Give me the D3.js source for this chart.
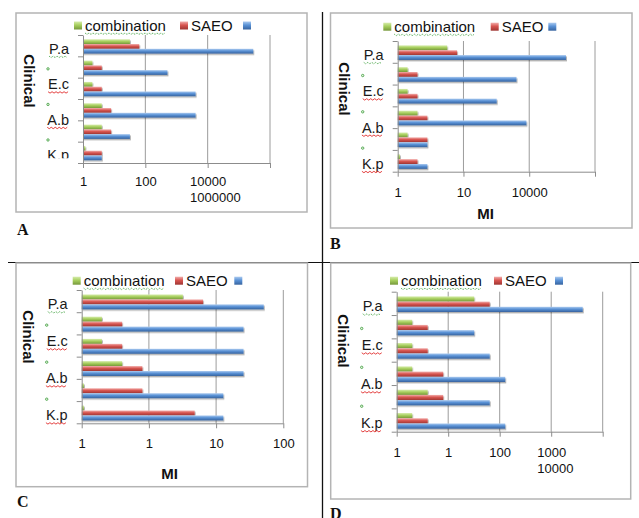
<!DOCTYPE html>
<html>
<head>
<meta charset="utf-8">
<script src="https://cdn.jsdelivr.net/npm/d3@7"></script>
<style>
body { margin: 0; background: #fff; }
svg { display: block; }
</style>
</head>
<body>
<div class="mainCont"></div>
<script>
// rows of bars (6 per chart), series and axis labels
var rows = ["r1", "r2", "r3", "r4", "r5", "r6"];
var seriesNames = ["combination", "SAEO", ""];
var rowLabels = ["P.a", "E.c", "A.b", "K.p"];

// chart A
var combA = [32, 2, 2, 4, 4, 1.19];
var saeoA = [64, 4, 4, 8, 8, 4];
var thirdA = [290000, 512, 4096, 4096, 32, 4];
var ticksA = [1, 100, 10000, 1000000];
var tickLabelsA = ["1", "100", "10000", "1000000"];

// chart B
var combB = [32, 2, 2, 4, 2, 1.17];
var saeoB = [64, 4, 4, 8, 8, 4];
var thirdB = [131072, 4096, 1024, 8192, 8, 8];
var ticksB = [1, 100, 10000, 1000000];
var tickLabelsB = ["1", "10", "10000", ""];

// chart C
var combC = [32, 2, 2, 4, 1.08, 1.08];
var saeoC = [64, 4, 4, 8, 8, 48];
var thirdC = [512, 256, 256, 256, 128, 128];
var ticksC = [1, 10, 100, 1000];
var tickLabelsC = ["1", "1", "10", "100"];

// chart D
var combD = [32, 2, 2, 2, 4, 2];
var saeoD = [64, 4, 4, 8, 8, 4];
var thirdD = [4096, 32, 64, 128, 64, 128];
var ticksD = [1, 10, 100, 1000, 10000];
var tickLabelsD = ["1", "1", "100", "1000", "10000"];

var panels = [
    { letter: "A", series: [combA, saeoA, thirdA], ticks: ticksA, tickLabels: tickLabelsA, wrapLast: true, title: null,
      box: [16, 13, 307, 212], plot: [83, 35, 270, 163], tickPad: 9, legendY: 25.5, legendX: [74, 180, 243],
      clinical: [29.5, 81], letterPos: [17, 235], clipY: 158.3 },
    { letter: "B", series: [combB, saeoB, thirdB], ticks: ticksB, tickLabels: tickLabelsB, wrapLast: false, title: [485.7, 218.7],
      box: [330.5, 13, 632, 228], plot: [397.7, 41, 595, 171.7], tickPad: 11, legendY: 26.7, legendX: [383.3, 490.7, 548.3],
      clinical: [344.5, 89], letterPos: [330, 249], clipY: null },
    { letter: "C", series: [combC, saeoC, thirdC], ticks: ticksC, tickLabels: tickLabelsC, wrapLast: false, title: [169.7, 478.7],
      box: [16, 263, 307.5, 486.7], plot: [81.7, 290, 283.3, 423.3], tickPad: 10, legendY: 280.7, legendX: [72.7, 175, 234.3],
      clinical: [28, 337], letterPos: [17, 506.7], clipY: null },
    { letter: "D", series: [combD, saeoD, thirdD], ticks: ticksD, tickLabels: tickLabelsD, wrapLast: true, title: null,
      box: [330.7, 263, 630.7, 499], plot: [396.7, 291.7, 602.7, 431.7], tickPad: 11, legendY: 280.7, legendX: [390, 494, 555],
      clinical: [343, 341], letterPos: [330, 519], clipY: null }
];

var barColors = [
    ["#d6ecab", "#a7cf5e", "#76983a"],
    ["#f2aeac", "#d85550", "#9e3532"],
    ["#abcaef", "#5a92d6", "#36639f"]
];

var svg = d3.select(".mainCont").append("svg")
    .attr("width", 639)
    .attr("height", 518)
    .style("font-family", "'Liberation Sans', Arial, sans-serif");

var defs = svg.append("defs");
barColors.forEach(function(c, i) {
    var grad = defs.append("linearGradient")
        .attr("id", "grad" + i)
        .attr("x1", 0).attr("y1", 0).attr("x2", 0).attr("y2", 1);
    grad.append("stop").attr("offset", "0%").attr("stop-color", c[0]);
    grad.append("stop").attr("offset", "45%").attr("stop-color", c[1]);
    grad.append("stop").attr("offset", "100%").attr("stop-color", c[2]);
});
var shadow = defs.append("filter")
    .attr("id", "shadow")
    .attr("x", "-5%").attr("y", "-60%")
    .attr("width", "115%").attr("height", "260%");
shadow.append("feDropShadow")
    .attr("dx", 1).attr("dy", 1.4)
    .attr("stdDeviation", 0.7)
    .attr("flood-color", "#000")
    .attr("flood-opacity", 0.3);

// page table lines
svg.append("line")
    .attr("x1", 8).attr("x2", 639).attr("y1", 262.5).attr("y2", 262.5)
    .attr("stroke", "#111").attr("stroke-width", 1);
svg.append("line")
    .attr("x1", 322.5).attr("x2", 322.5).attr("y1", 12).attr("y2", 518)
    .attr("stroke", "#111").attr("stroke-width", 1.3);

// spell-check style squiggle under a word
function squiggle(g, x0, x1, yb, color, dotted) {
    var pts = [];
    for (var xx = x0, k = 0; xx <= x1; xx += 2, k++) {
        pts.push([xx, yb + (k % 2 ? 1.4 : 0)]);
    }
    g.append("path")
        .attr("d", d3.line()(pts))
        .attr("fill", "none")
        .attr("stroke", color)
        .attr("stroke-width", 0.9)
        .attr("stroke-dasharray", dotted ? "1,1" : null);
}

function drawPanel(p, idx) {
    var g = svg.append("g").attr("class", "panel");

    g.append("rect")
        .attr("x", p.box[0]).attr("y", p.box[1])
        .attr("width", p.box[2] - p.box[0])
        .attr("height", p.box[3] - p.box[1])
        .attr("fill", "#fff")
        .attr("stroke", "#b4b4b4")
        .attr("stroke-width", 1.5);

    var x = d3.scaleLog()
        .domain([p.ticks[0], p.ticks[p.ticks.length - 1]])
        .range([p.plot[0], p.plot[2]]);
    var y = d3.scaleBand()
        .domain(rows)
        .range([p.plot[1], p.plot[3]]);
    var ySub = d3.scaleBand()
        .domain([0, 1, 2])
        .range([y.bandwidth() * 0.2, y.bandwidth() * 0.87]);
    var yEdge = d3.scaleLinear()
        .domain([0, rows.length])
        .range([p.plot[1], p.plot[3]]);

    // gridlines
    g.selectAll(".grid")
        .data(p.ticks.slice(1))
        .enter().append("line")
        .attr("class", "grid")
        .attr("x1", function(d) { return x(d); })
        .attr("x2", function(d) { return x(d); })
        .attr("y1", p.plot[1])
        .attr("y2", p.plot[3])
        .attr("stroke", "#9c9c9c")
        .attr("stroke-width", 1);

    // bars
    var barData = [];
    p.series.forEach(function(vals, si) {
        vals.forEach(function(v, ri) {
            barData.push({ row: rows[ri], s: si, v: v });
        });
    });
    g.append("g")
        .attr("filter", "url(#shadow)")
        .selectAll("rect")
        .data(barData)
        .enter().append("rect")
        .attr("x", x(p.ticks[0]))
        .attr("y", function(d) { return y(d.row) + ySub(d.s); })
        .attr("width", function(d) { return x(d.v) - x(p.ticks[0]); })
        .attr("height", ySub.bandwidth())
        .attr("fill", function(d) { return "url(#grad" + d.s + ")"; });

    // x axis
    var xAxis = d3.axisBottom(x)
        .tickValues(p.ticks)
        .tickSize(5)
        .tickSizeOuter(0)
        .tickPadding(p.tickPad)
        .tickFormat(function(d, i) { return p.tickLabels[i]; });
    var xg = g.append("g")
        .attr("transform", "translate(0," + p.plot[3] + ")")
        .call(xAxis);
    xg.select(".domain").attr("stroke", "#8c8c8c");
    xg.selectAll(".tick line").attr("stroke", "#8c8c8c");
    xg.selectAll(".tick text")
        .attr("fill", "#111")
        .style("font-size", "13px")
        .style("font-family", "'Liberation Sans', Arial, sans-serif");
    if (p.wrapLast) {
        var texts = xg.selectAll(".tick text").nodes();
        var prev = texts[texts.length - 2];
        var last = texts[texts.length - 1];
        var prevX = x(p.ticks[p.ticks.length - 2]) - x(p.ticks[p.ticks.length - 1]);
        var prevW = prev.getComputedTextLength();
        d3.select(last)
            .attr("text-anchor", "start")
            .attr("x", prevX - prevW / 2)
            .attr("y", p.tickPad + 5 + 16);
    }

    // y axis
    var yAxis = d3.axisLeft(yEdge)
        .tickValues(d3.range(rows.length + 1))
        .tickSize(5)
        .tickSizeOuter(0)
        .tickFormat("");
    var yg = g.append("g")
        .attr("transform", "translate(" + p.plot[0] + ",0)")
        .call(yAxis);
    yg.select(".domain").attr("stroke", "#8c8c8c");
    yg.selectAll(".tick line").attr("stroke", "#8c8c8c");

    // category labels
    var span = p.plot[3] - p.plot[1];
    var yl = d3.scalePoint()
        .domain(rowLabels)
        .range([p.plot[1], p.plot[3]])
        .padding(0.3);
    var lg = g.append("g");
    if (p.clipY) {
        defs.append("clipPath").attr("id", "clip" + idx)
            .append("rect")
            .attr("x", p.box[0]).attr("y", p.box[1])
            .attr("width", p.plot[0] - p.box[0])
            .attr("height", p.clipY - p.box[1]);
        lg.attr("clip-path", "url(#clip" + idx + ")");
    }
    rowLabels.forEach(function(lab, i) {
        var cy = yl(lab) + 3;
        var t = lg.append("text")
            .attr("x", p.plot[0] - 14)
            .attr("y", cy + 5)
            .attr("text-anchor", "end")
            .attr("fill", "#1a1a1a")
            .style("font-size", "14.5px")
            .text(lab);
        var w = t.node().getComputedTextLength();
        squiggle(lg, p.plot[0] - 14 - w, p.plot[0] - 14, cy + 7.5, i === 0 ? "#2f9a2f" : "#e02a2a", i === 0);
        if (i > 0) {
            lg.append("circle")
                .attr("cx", p.plot[0] - 35)
                .attr("cy", cy - span * 0.12)
                .attr("r", 1.2)
                .attr("fill", "#e8f5e0")
                .attr("stroke", "#3a9a3a")
                .attr("stroke-width", 0.8);
        }
    });

    // legend
    seriesNames.forEach(function(name, i) {
        var lx = p.legendX[i];
        g.append("rect")
            .attr("x", lx).attr("y", p.legendY - 4)
            .attr("width", 8).attr("height", 8)
            .attr("fill", "url(#grad" + i + ")");
        if (name) {
            var t = g.append("text")
                .attr("x", lx + 11)
                .attr("y", p.legendY + 5)
                .attr("fill", "#111")
                .style("font-size", "15px")
                .text(name);
            if (i === 0) {
                squiggle(g, lx + 11, lx + 11 + t.node().getComputedTextLength(), p.legendY + 7.5, "#2f9a2f", true);
            }
        }
    });

    // axis titles
    g.append("text")
        .attr("transform", "translate(" + p.clinical[0] + "," + p.clinical[1] + ") rotate(90)")
        .attr("text-anchor", "middle")
        .attr("dominant-baseline", "central")
        .attr("fill", "#111")
        .style("font-size", "15px")
        .style("font-weight", "bold")
        .text("Clinical");
    if (p.title) {
        g.append("text")
            .attr("x", p.title[0]).attr("y", p.title[1])
            .attr("text-anchor", "middle")
            .attr("fill", "#111")
            .style("font-size", "15px")
            .style("font-weight", "bold")
            .text("MI");
    }

    // panel letter
    svg.append("text")
        .attr("x", p.letterPos[0]).attr("y", p.letterPos[1])
        .attr("fill", "#111")
        .style("font-family", "'Liberation Serif', 'Times New Roman', serif")
        .style("font-size", "16px")
        .style("font-weight", "bold")
        .text(p.letter);
}

panels.forEach(drawPanel);
</script>
</body>
</html>
